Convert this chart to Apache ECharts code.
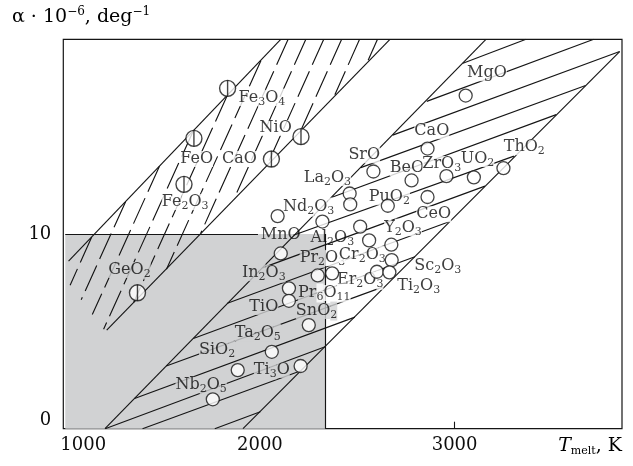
<!DOCTYPE html>
<html><head><meta charset="utf-8">
<script src="https://cdn.jsdelivr.net/npm/echarts@6/dist/echarts.min.js"></script>
<style>html,body{margin:0;padding:0;background:#fff}#c{width:633px;height:466px}</style>
</head><body><div id="c"></div>
<script>
// ---- data (x = melting temperature, K; y = alpha * 10^-6, 1/deg) ----
const xTickValues = [1000, 2000, 3000];
const yTickValues = [0, 10];
const grayBox = [[1000, 0], [2335, 10]];
const grayEdges = [
  [[1000, 10], [1990, 10]],
  [[2335, 0], [2335, 10]]
];
const leftBandEdges = [
  [[1017, 8.61], [2107, 20]],
  [[1213, 5.06], [2668, 20]]
];
const hatchLines = [
  [[1136, 9.85], [1025, 7.37]],
  [[1310, 11.66], [1082, 6.62]],
  [[1484, 13.48], [1139, 5.86]],
  [[1657, 15.28], [1197, 5.11]],
  [[1831, 17.09], [1352, 6.50]],
  [[2005, 18.90], [1520, 8.19]],
  [[2145, 20], [1696, 10.04]],
  [[2236, 20], [1868, 11.83]],
  [[2328, 20], [2040, 13.60]],
  [[2420, 20], [2212, 15.36]],
  [[2512, 20], [2385, 17.15]],
  [[2604, 20], [2556, 18.92]]
];
const rightBandEdges = [
  [[1204, 0], [3161, 20]],
  [[1913, 0], [3848, 19.37]]
];
const isoLines = [
  [[3043, 18.77], [3367, 20]],
  [[2857, 16.81], [3715, 20]],
  [[2682, 15.08], [3848, 19.37]],
  [[2518, 13.41], [3673, 17.63]],
  [[2370, 11.89], [3522, 16.13]],
  [[2172, 9.94], [3305, 14.0]],
  [[2013, 8.26], [3156, 12.46]],
  [[1833, 6.44], [2975, 10.64]],
  [[1658, 4.63], [2796, 8.83]],
  [[1519, 3.22], [2630, 7.27]],
  [[1356, 1.55], [2488, 5.73]],
  [[1205, 0], [2335, 4.21]],
  [[1397, 0], [2207, 2.96]],
  [[1768, 0], [2002, 0.87]]
];
const splitCircles = [
  [1834, 17.48], [1661, 14.91], [1610, 12.55], [2059, 13.85], [2211, 15.0], [1371, 6.98]
];
const openCircles = [
  [3057, 17.11], [2861, 14.39], [2583, 13.21], [2461, 12.08], [2464, 11.52],
  [2779, 12.75], [2958, 12.97], [3099, 12.91], [3251, 13.38], [2657, 11.45],
  [2861, 11.90], [2091, 10.92], [2321, 10.64], [2515, 10.38], [2561, 9.67],
  [2675, 9.45], [2677, 8.66], [2601, 8.06], [2665, 8.03], [2297, 7.87],
  [2371, 7.98], [2107, 9.00], [2149, 7.21], [2149, 6.57], [2251, 5.32],
  [2061, 3.95], [1886, 3.01], [2209, 3.22], [1758, 1.51]
];
const labelNames = [
  'Fe3O4', 'NiO', 'FeO', 'CaO', 'Fe2O3', 'GeO2', 'MnO', 'Nd2O3', 'La2O3', 'SrO',
  'CaO', 'MgO', 'BeO', 'ZrO3', 'UO2', 'ThO2', 'PuO2', 'CeO', 'Al2O3', 'Y2O3',
  'Pr2O3', 'Cr2O3', 'Sc2O3', 'In2O3', 'Er2O3', 'Ti2O3', 'Pr6O11', 'TiO', 'SnO2', 'Ta2O5',
  'SiO2', 'Ti3O', 'Nb2O5'
];
const labelPoints = [
  [2010, 16.98], [2081, 15.44], [1675, 13.85], [1895, 13.85], [1616, 11.64],
  [1330, 8.15], [2107, 9.97], [2250, 11.38], [2347, 12.87], [2536, 14.05],
  [2883, 15.28], [3166, 18.26], [2755, 13.38], [2934, 13.59], [3118, 13.85],
  [3358, 14.46], [2665, 11.89], [2893, 11.02], [2372, 9.79], [2735, 10.30],
  [2321, 8.76], [2526, 8.92], [2914, 8.35], [2020, 7.99], [2515, 7.62],
  [2816, 7.33], [2331, 6.97], [2020, 6.25], [2291, 6.04], [1989, 4.91],
  [1780, 4.04], [2061, 3.02], [1698, 2.25]
];
// backdrop behind each label: w = white, g = gray, t = none, number = leading parts on gray
const labelBackdrops = [
  'w', 'w', 'w', 'w', 'w', 'g', 't', 'w', 'w', 'w',
  'w', 'w', 'w', 'w', 'w', 'w', 'w', 'w', 't', 'w',
  2, 'w', 'w', 'g', 'w', 'w', 1, 'g', 2, 'g',
  'g', 'g', 'g'
];

// ---- styling ----
const INK = '#151515';
const TXT = '#0d0d0d';
const GRAY = '#d1d2d3';
const FONT = '"DejaVu Serif", serif';
const BG = { w: '#ffffff', g: GRAY, t: 'rgba(0,0,0,0)' };

function richSet() {
  const r = {};
  for (const k in BG) {
    r['n' + k] = { fontFamily: FONT, fontSize: 16, lineHeight: 19, color: TXT, backgroundColor: BG[k] };
    r['s' + k] = { fontFamily: FONT, fontSize: 11, lineHeight: 11, padding: [8, 0, 0, 0], color: TXT, backgroundColor: BG[k] };
  }
  return r;
}
function richText(name, bg) {
  const parts = name.match(/[A-Za-z]+|\d+/g);
  return parts.map((p, i) => {
    const kind = /\d/.test(p) ? 's' : 'n';
    const b = typeof bg === 'number' ? (i < bg ? 'g' : 'w') : bg;
    return '{' + kind + b + '|' + p + '}';
  }).join('');
}
function segs(list) { return list.map(c => ({ coords: c })); }
const lineBase = { color: INK, width: 1.15, opacity: 1 };

const chart = echarts.init(document.getElementById('c'), null, { renderer: 'canvas' });
chart.setOption({
  animation: false,
  backgroundColor: '#fff',
  grid: { left: 63.3, right: 11, top: 39.3, bottom: 37.3, show: true, borderColor: INK, borderWidth: 1.2, backgroundColor: 'transparent' },
  xAxis: {
    type: 'value', min: 990, max: 3860,
    axisLine: { show: false },
    splitLine: { show: false },
    axisTick: { show: true, inside: true, length: 7, customValues: [2000, 3000], lineStyle: { color: INK, width: 1.1 } },
    axisLabel: {
      customValues: xTickValues, margin: 8, color: TXT, fontFamily: FONT, fontSize: 18,
      formatter: v => v === xTickValues[0] ? '{a|' + v + '}' : String(v),
      rich: { a: { padding: [0, 0, 0, 36], fontFamily: FONT, fontSize: 18, color: TXT } }
    }
  },
  yAxis: {
    type: 'value', min: 0, max: 20, interval: 10,
    axisLine: { show: false },
    splitLine: { show: false },
    axisTick: { show: false },
    axisLabel: {
      margin: 12, color: TXT, fontFamily: FONT, fontSize: 18,
      formatter: v => v === yTickValues[0] ? '{z|' + v + '}' : (yTickValues.includes(v) ? String(v) : ''),
      rich: { z: { padding: [0, 0, 16, 0], fontFamily: FONT, fontSize: 18, color: TXT } }
    }
  },
  graphic: [
    { type: 'text', left: 12, top: 6, style: {
        text: '{n|α · 10}{p|−6}{n|, deg}{p|−1}',
        rich: {
          n: { fontFamily: FONT, fontSize: 19, lineHeight: 24, color: TXT },
          p: { fontFamily: FONT, fontSize: 12, lineHeight: 13, padding: [0, 0, 11, 0], color: TXT }
        }
      } },
    { type: 'text', right: 11, top: 436, style: {
        text: '{i|T}{m|melt}{n|, K}',
        rich: {
          i: { fontFamily: FONT, fontSize: 19, fontStyle: 'italic', lineHeight: 22, color: TXT },
          m: { fontFamily: FONT, fontSize: 11, lineHeight: 12, padding: [10, 0, 0, 0], color: TXT },
          n: { fontFamily: FONT, fontSize: 19, lineHeight: 22, color: TXT }
        }
      } }
  ],
  series: [
    { type: 'line', data: [], z: 0, silent: true,
      markArea: { silent: true, itemStyle: { color: GRAY },
        data: [[{ xAxis: grayBox[0][0], yAxis: grayBox[0][1] }, { xAxis: grayBox[1][0], yAxis: grayBox[1][1] }]] } },
    { type: 'lines', coordinateSystem: 'cartesian2d', z: 2, silent: true, data: segs(grayEdges), lineStyle: lineBase },
    { type: 'lines', coordinateSystem: 'cartesian2d', z: 2, silent: true, data: segs(leftBandEdges), lineStyle: lineBase },
    { type: 'lines', coordinateSystem: 'cartesian2d', z: 2, silent: true, data: segs(hatchLines), lineStyle: Object.assign({}, lineBase, { type: [28, 7] }) },
    { type: 'lines', coordinateSystem: 'cartesian2d', z: 2, silent: true, data: segs(rightBandEdges), lineStyle: lineBase },
    { type: 'lines', coordinateSystem: 'cartesian2d', z: 2, silent: true, data: segs(isoLines), lineStyle: lineBase },
    { type: 'scatter', z: 3, silent: true, data: labelPoints, symbolSize: 1,
      itemStyle: { color: 'rgba(0,0,0,0)' },
      label: { show: true, position: 'inside', formatter: p => richText(labelNames[p.dataIndex], labelBackdrops[p.dataIndex]), rich: richSet() } },
    { type: 'scatter', z: 4, silent: true, data: openCircles, symbol: 'circle', symbolSize: 13,
      itemStyle: { color: '#fff', borderColor: INK, borderWidth: 1.3 } },
    { type: 'scatter', z: 4, silent: true, data: splitCircles, symbol: 'circle', symbolSize: 16,
      itemStyle: { color: '#fff', borderColor: INK, borderWidth: 1.4 } },
    { type: 'scatter', z: 5, silent: true, data: splitCircles, symbol: 'rect', symbolSize: [1.4, 16],
      itemStyle: { color: INK } }
  ]
});
</script>
</body></html>
